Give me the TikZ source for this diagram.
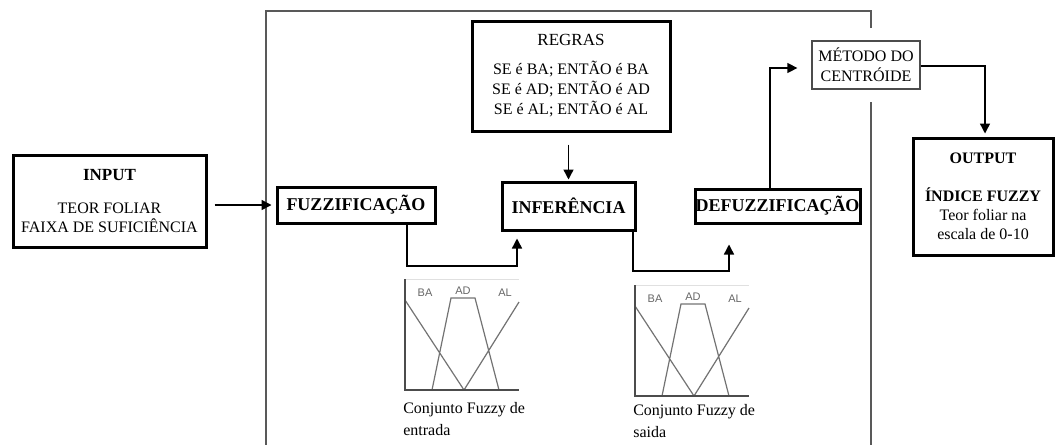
\documentclass[tikz,border=0pt]{standalone}
\usepackage{fontspec}
\setmainfont{Liberation Serif}
\newfontfamily\chartfont{Liberation Sans}
\usetikzlibrary{arrows.meta, calc}

\begin{document}
\begin{tikzpicture}[x=1pt, y=-1pt, >={Triangle[length=10pt, width=10pt]}, semithick,
  box/.style={draw, line width=3pt, align=center, inner sep=0pt, font=\fontsize{16}{19}\selectfont},
  thinbox/.style={draw=black!70, line width=1.3pt, align=center, inner sep=0pt, font=\fontsize{16}{20}\selectfont},
  boldbox/.style={box, font=\fontsize{18}{20}\selectfont\bfseries},
  link/.style={->, line width=1.4pt},
  frame/.style={draw=black!65, line width=1.6pt},
  curve/.style={draw=black!55, line width=1.2pt},
  setlabel/.style={font=\chartfont\fontsize{11}{11}\selectfont, text=black!60, inner sep=0pt},
  caption/.style={font=\fontsize{16}{22}\selectfont, align=left, inner sep=0pt, anchor=north west}]
  \useasboundingbox (0,0) rectangle (1059,445);

  % outer frame, open at the bottom and behind the centroid box
  \draw[frame] (871,28) -- (871,11) -- (266,11) -- (266,445);
  \draw[frame] (871,102) -- (871,445);

  \node[box, minimum width=193pt, minimum height=92pt] (inp) at (109.5,201)
    {{\fontsize{17}{19}\selectfont\bfseries INPUT}\\[14pt]TEOR FOLIAR\\FAIXA DE SUFICIÊNCIA};
  \node[boldbox, minimum width=158pt, minimum height=36pt]  (fuzz)   at (356,205)   {FUZZIFICAÇÃO};
  \node[boldbox, minimum width=133pt, minimum height=48pt]  (inf)    at (568.5,206) {INFERÊNCIA};
  \node[boldbox, minimum width=165pt, minimum height=34pt]  (defuzz) at (777.5,206) {DEFUZZIFICAÇÃO};
  \node[box, minimum width=198pt, minimum height=110pt, font=\fontsize{16}{20}\selectfont] (regras) at (571,76)
    {{\fontsize{17}{20}\selectfont REGRAS}\\[9pt]SE é BA; ENTÃO é BA\\SE é AD; ENTÃO é AD\\SE é AL; ENTÃO é AL};
  \node[thinbox, minimum width=108pt, minimum height=48pt] (metodo) at (866,65) {MÉTODO DO\\CENTRÓIDE};
  \node[box, minimum width=140pt, minimum height=117pt] (out) at (983,196.5)
    {{\bfseries OUTPUT}\\[19pt]{\bfseries ÍNDICE FUZZY}\\Teor foliar na\\escala de 0-10};

  \coordinate (k1) at (407,266);
  \coordinate (k2) at (517,266);
  \coordinate (k3) at (633,271);
  \coordinate (k4) at (729,271);
  \coordinate (k5) at (770,68);
  \coordinate (k6) at (985,66);

  \draw[link, shorten <=7pt, shorten >=4pt] (inp.east |- fuzz) -- (fuzz.west);
  \draw[link, shorten >=7pt] (fuzz.south -| k1) |- (k2) -- (inf.south -| k2);
  \draw[link, shorten <=12pt, shorten >=1pt] (inf.north |- regras.south) -- (inf.north);
  \draw[link, shorten >=20pt] (inf.south -| k3) |- (k4) -- (defuzz.south -| k4);
  \draw[link, shorten >=14pt] (defuzz.north -| k5) -- (k5) -- (metodo.west |- k5);
  \draw[link, shorten >=3pt] (metodo.east |- k6) -- (k6) -- (out.north -| k6);

  % membership functions
  \foreach \ox/\oy/\sub/\cy in {405/390/entrada/12, 635/396/saida/8}{
    \begin{scope}[shift={(\ox,\oy)}]
      \draw[draw=black!12, line width=0.8pt] (0,-111) -- (114,-111);
      \draw[curve] (0,-90) -- (59,0) (27,0) -- (46,-92) -- (70,-92) -- (94,0) (59,0) -- (114,-88);
      \draw[draw=black!70, line width=1.8pt] (0,-111) -- (0,0) -- (114,0);
      \node[setlabel] (ba-\sub) at (20,-97)  {BA};
      \node[setlabel] (ad-\sub) at (58,-99)  {AD};
      \node[setlabel] (al-\sub) at (100,-97) {AL};
      \node[caption] (cap-\sub) at (-2,\cy) {Conjunto Fuzzy de\\\sub};
    \end{scope}
  }
\end{tikzpicture}
\end{document}
